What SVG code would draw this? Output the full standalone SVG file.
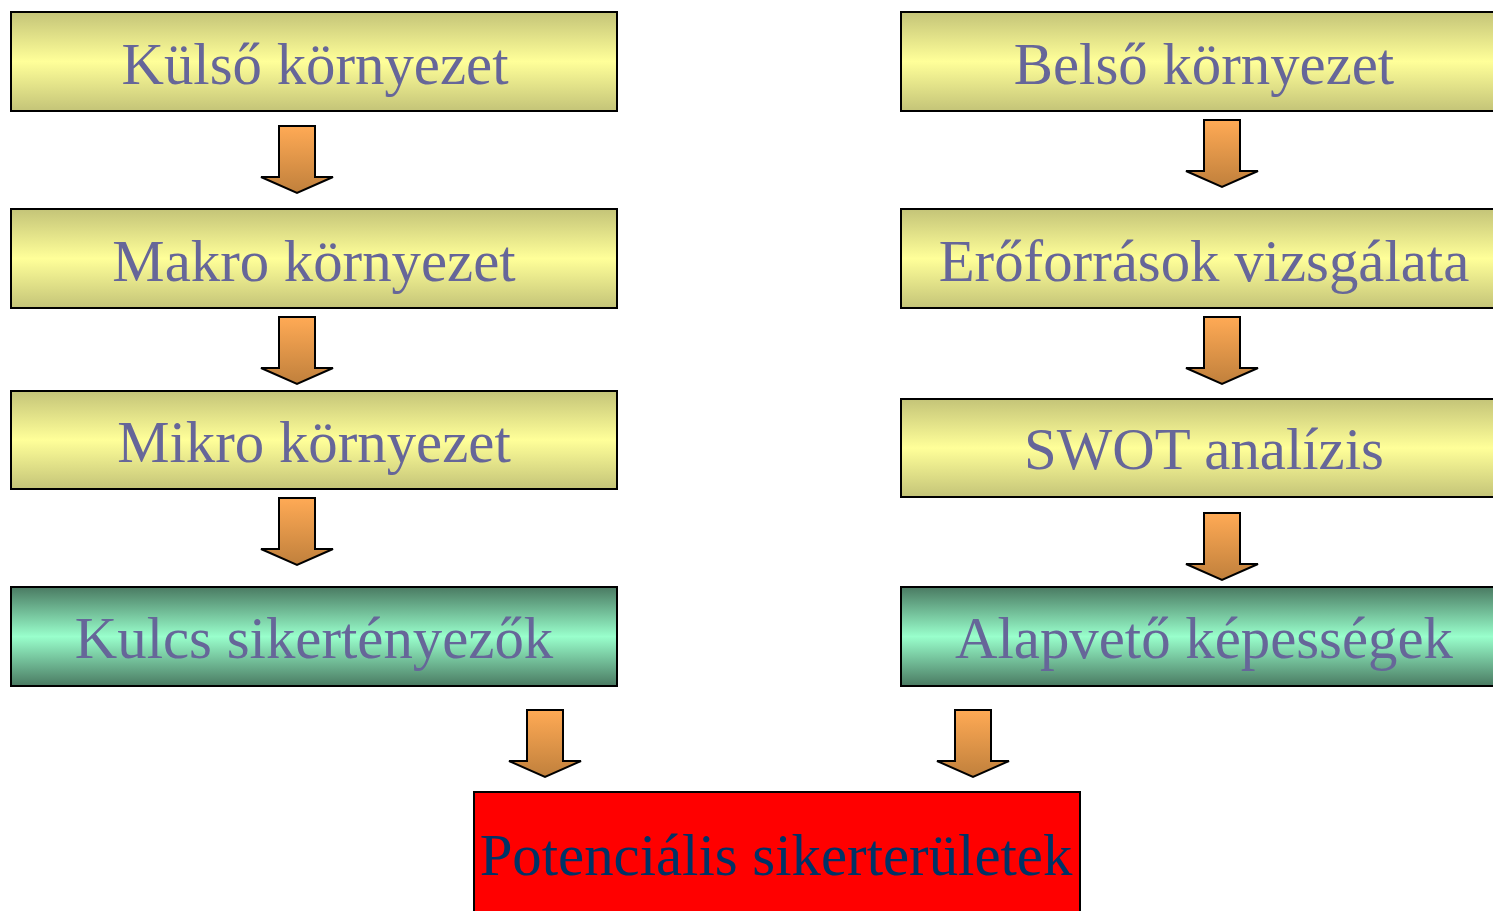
<svg xmlns="http://www.w3.org/2000/svg" width="1493" height="911" viewBox="0 0 1493 911">
<defs>
<linearGradient id="gy" x1="0" y1="0" x2="0" y2="1">
<stop offset="0" stop-color="#c4c478"/><stop offset="0.5" stop-color="#ffff99"/><stop offset="1" stop-color="#c4c478"/>
</linearGradient>
<linearGradient id="gg" x1="0" y1="0" x2="0" y2="1">
<stop offset="0" stop-color="#4a7a62"/><stop offset="0.5" stop-color="#99ffcc"/><stop offset="1" stop-color="#4a7a62"/>
</linearGradient>
<linearGradient id="ga" x1="0" y1="0" x2="0" y2="1">
<stop offset="0" stop-color="#ffaa55"/><stop offset="1" stop-color="#c0803c"/>
</linearGradient>
<path id="arr" d="M-18,0 H18 V51 H36 L0,67 L-36,51 H-18 Z"/>
</defs>
<style>
.y{fill:url(#gy);stroke:#000;stroke-width:2}
.g{fill:url(#gg);stroke:#000;stroke-width:2}
.r{fill:#ff0000;stroke:#000;stroke-width:2}
.t{font-family:"Liberation Serif","Times New Roman",serif;font-size:58.8px;fill:#666699;text-anchor:middle}
.tr{font-family:"Liberation Serif","Times New Roman",serif;font-size:58.8px;fill:#003366;text-anchor:middle}
.a{fill:url(#ga);stroke:#000;stroke-width:2;stroke-linejoin:miter}
</style>
<rect width="1493" height="911" fill="#fff"/>
<g id="connectors">
<use href="#arr" class="a" x="297" y="126"/>
<use href="#arr" class="a" x="297" y="317"/>
<use href="#arr" class="a" x="297" y="498"/>
<use href="#arr" class="a" x="1222" y="120"/>
<use href="#arr" class="a" x="1222" y="317"/>
<use href="#arr" class="a" x="1222" y="513"/>
<use href="#arr" class="a" x="545" y="710"/>
<use href="#arr" class="a" x="973" y="710"/>
</g>
<g id="kulso"><rect class="y" x="11" y="12" width="606" height="99"/><text class="t" x="315" y="84">Külső környezet</text></g>
<g id="makro"><rect class="y" x="11" y="209" width="606" height="99"/><text class="t" x="314" y="281">Makro környezet</text></g>
<g id="mikro"><rect class="y" x="11" y="391" width="606" height="98"/><text class="t" x="314" y="462">Mikro környezet</text></g>
<g id="kulcs"><rect class="g" x="11" y="587" width="606" height="99"/><text class="t" x="314" y="658">Kulcs sikertényezők</text></g>
<g id="belso"><rect class="y" x="901" y="12" width="606" height="99"/><text class="t" x="1204" y="84">Belső környezet</text></g>
<g id="eroforrasok"><rect class="y" x="901" y="209" width="606" height="99"/><text class="t" x="1204" y="281">Erőforrások vizsgálata</text></g>
<g id="swot"><rect class="y" x="901" y="399" width="606" height="98"/><text class="t" x="1204" y="469">SWOT analízis</text></g>
<g id="alapveto"><rect class="g" x="901" y="587" width="606" height="99"/><text class="t" x="1204" y="658">Alapvető képességek</text></g>
<g id="potencialis"><rect class="r" x="474" y="792" width="606" height="130"/><text class="tr" x="776" y="875">Potenciális sikerterületek</text></g>
</svg>
